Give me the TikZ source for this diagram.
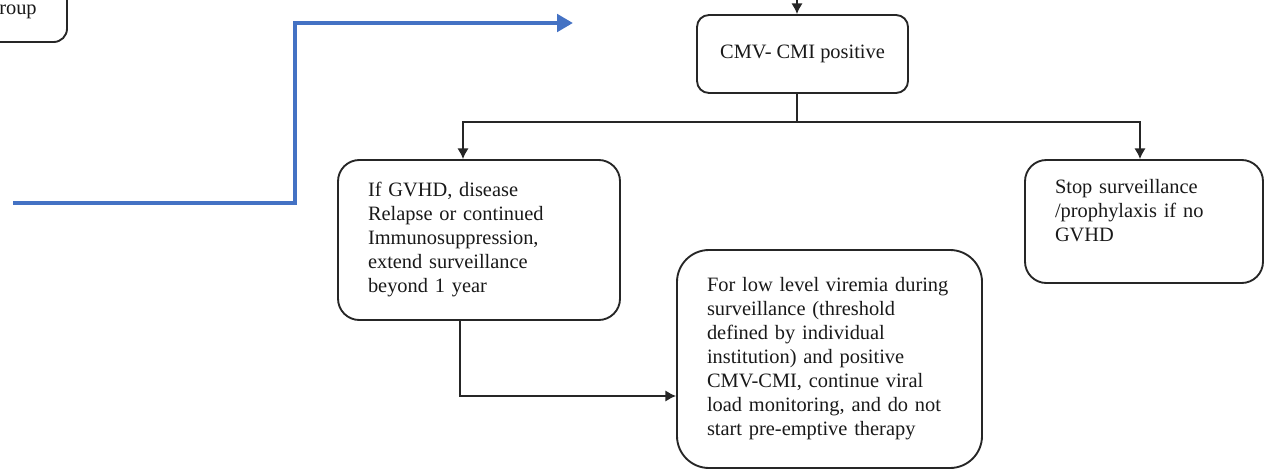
\documentclass[tikz,border=0pt]{standalone}
\usepackage{fontspec}
\setmainfont{Liberation Serif}
\usetikzlibrary{positioning,calc,arrows.meta}
\definecolor{bluearrow}{HTML}{4472C4}

\begin{document}
\begin{tikzpicture}[x=0.75pt,y=0.75pt,
  box/.style={draw=black!85,line width=1.4pt,rounded corners=16pt,align=left,inner xsep=22.5pt,
    font=\fontsize{15.3}{18}\selectfont,text=black!90},
  link/.style={draw=black!85,line width=1.2pt,-{Latex[length=8pt,width=8.5pt]}},
  blueline/.style={draw=bluearrow,line width=3pt,-{Triangle[length=12pt,width=13pt]}}]

\useasboundingbox (0,0) rectangle (1270,469);

\coordinate (topin)  at (797,472);
\coordinate (split)  at (797,347);
\coordinate (bstart) at ( 13,266);
\coordinate (bturn)  at (295,266);
\coordinate (bend)   at (573,446);

\node[box,minimum width=162.75pt,minimum height=76.5pt,rounded corners=10pt] (grp) at (-41.5,478) {};
\node[font=\fontsize{15.3}{18}\selectfont,text=black!90,anchor=base west,inner sep=0pt] (grptxt) at (-1,455) {roup};

\node[box,minimum width=158.25pt,minimum height=58.5pt,inner xsep=10pt,align=center,rounded corners=9pt]
  (cmi) at (802.5,415) {CMV- CMI positive};
\node[box,text width=166.5pt,minimum width=211.5pt,minimum height=120pt] (ext) at (479,229)
  {If GVHD, disease\\Relapse or continued\\Immunosuppression,\\extend surveillance\\beyond 1 year};
\node[box,text width=133.5pt,minimum width=178.5pt,minimum height=92.25pt,text depth=52pt] (stop) at (1144,247.5)
  {Stop surveillance\\/prophylaxis if no\\GVHD};
\node[box,text width=183.75pt,minimum width=228.75pt,minimum height=163.5pt,rounded corners=24pt] (low) at (829.5,110)
  {For low level viremia during\\surveillance (threshold\\defined by individual\\institution) and positive\\CMV-CMI, continue viral\\load monitoring, and do not\\start pre-emptive therapy};

\draw[link] (topin) -- (topin|-cmi.north);
\draw[link] (topin|-cmi.south) -- (split) -| ([xshift=-12pt]ext.north);
\draw[link] (split) -| ([xshift=-3pt]stop.north);
\draw[link] ([xshift=-14.25pt]ext.south) |- ([yshift=-27.75pt]low.west);

\draw[blueline] (bstart) -- (bturn) |- (bend);

\end{tikzpicture}
\end{document}
